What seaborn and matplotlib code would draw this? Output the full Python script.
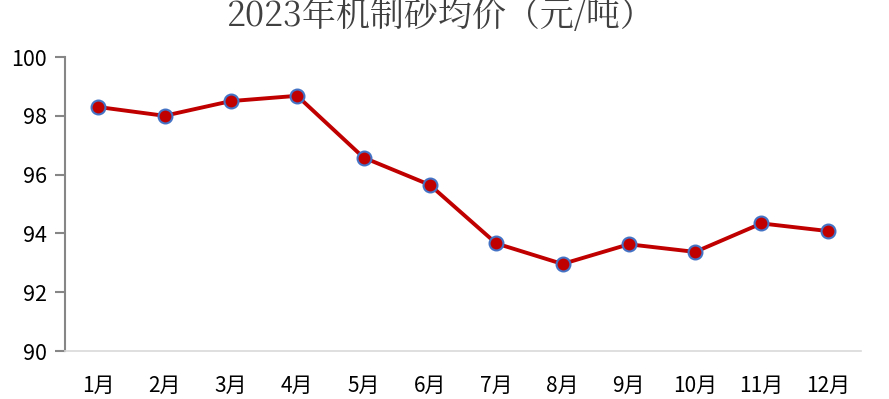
import matplotlib
matplotlib.use("Agg")
import matplotlib.pyplot as plt
import seaborn as sns
import pandas as pd

months = ["1月", "2月", "3月", "4月", "5月", "6月", "7月", "8月", "9月", "10月", "11月", "12月"]
prices = [98.30, 98.00, 98.50, 98.68, 96.58, 95.65, 93.66, 92.96, 93.63, 93.37, 94.34, 94.08]
title = "2023年机制砂均价（元/吨）"
y_ticks = [90, 92, 94, 96, 98, 100]

sns.set_theme(style="white")
plt.rcParams["font.family"] = ["Noto Sans CJK SC", "DejaVu Sans"]

df = pd.DataFrame({"month": months, "price": prices})

fig = plt.figure(figsize=(8.89, 3.99), dpi=100)
ax = fig.add_axes([65/889, 1-351/399, (861-65)/889, (351-57)/399])

sns.lineplot(data=df, x="month", y="price", ax=ax, sort=False,
             color="#C00000", linewidth=2.8, marker="o", markersize=10,
             markerfacecolor="#C00000", markeredgecolor="#4472C4",
             markeredgewidth=1.5)

ax.set_ylim(90, 100)
ax.set_xlim(-0.5, len(months) - 0.5)
ax.set_yticks(y_ticks)
ax.set_yticklabels([str(v) for v in y_ticks])
ax.set_xlabel("")
ax.set_ylabel("")

for s in ["top", "right"]:
    ax.spines[s].set_visible(False)
ax.spines["left"].set_color("#868686")
ax.spines["left"].set_linewidth(1.5)
ax.spines["bottom"].set_color("#D9D9D9")
ax.spines["bottom"].set_linewidth(1.2)

ax.tick_params(axis="y", which="major", left=True, length=7, width=1.5,
               color="#868686", direction="out", labelsize=15.5, labelcolor="#000000", pad=6)
ax.tick_params(axis="x", which="major", bottom=False, labelsize=15, labelcolor="#000000", pad=11)

fig.text(441/889, 1-17/399, title, ha="center", va="center", fontsize=24.5,
         color="#404040", family=["Noto Serif CJK SC", "Noto Sans CJK SC", "DejaVu Serif"])

fig.savefig("out.png", dpi=100)
